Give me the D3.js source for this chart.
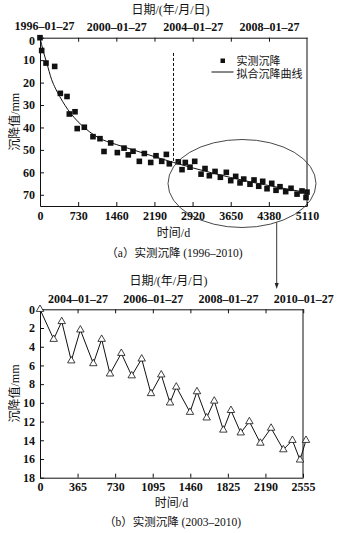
<!DOCTYPE html>
<html>
<head>
<meta charset="utf-8">
<script src="https://cdn.jsdelivr.net/npm/d3@7"></script>
<style>
  body { margin: 0; background: #fff; }
  svg { display: block; }
  .num text, text.num { font-family: "Liberation Serif", "Times New Roman", serif; font-weight: bold; font-size: 12px; fill: #111; }
  .cjk { font-family: "Liberation Serif", "Noto Sans CJK SC", serif; font-size: 12px; fill: #111; }
  .leg { font-family: "Liberation Serif", "Noto Sans CJK SC", serif; font-size: 11px; fill: #111; }
  .cap { font-family: "Liberation Serif", "Noto Sans CJK SC", serif; font-size: 11.5px; fill: #111; }
</style>
</head>
<body>
<script>
// ---- (a) measured settlement 1996–2010 (days since 1996-01-27, mm) ----
const measuredDays = [0, 32, 115, 281, 389, 517, 561, 670, 712, 848,
  1014, 1148, 1225, 1353, 1480, 1608, 1690, 1780, 1901, 1997,
  2119, 2220, 2329, 2418, 2475, 2647, 2718, 2781, 2871, 2961,
  3082, 3158, 3241, 3350, 3452, 3566, 3650, 3745, 3828, 3899,
  4019, 4096, 4186, 4262, 4345, 4435, 4517, 4593, 4702, 4804,
  4919, 5014, 5091, 5110];
const measuredValues = [0, 5.7, 11.3, 12.8, 24.8, 26.2, 34, 33, 40.5, 39.9,
  44.1, 45, 50.7, 46.9, 51.2, 49.2, 52.2, 50.6, 55.1, 51.6,
  55.6, 52.6, 55.1, 52, 56.2, 55.3, 58.8, 55.6, 57.7, 55.1,
  60.8, 58.3, 61.5, 59.6, 62.2, 60, 63.7, 61.8, 64.7, 63,
  65.3, 63.4, 66.2, 64, 67.3, 64.9, 68, 66.4, 68.6, 67.1,
  69.7, 68.3, 71.2, 68.8];

// fitted settlement curve
const fitDays = [0, 60, 130, 220, 300, 380, 480, 580, 730, 860, 1050, 1200,
  1340, 1460, 1825, 2190, 2555, 2920, 3285, 3650, 4015, 4380, 4745, 5110];
const fitValues = [0, 5.8, 11.3, 18.5, 22.8, 26.3, 30.2, 33.5, 37.5, 40.3, 43.6, 45.5,
  46.7, 47.6, 50.3, 53.0, 55.6, 58.0, 60.2, 62.3, 64.2, 65.9, 67.5, 69.0];

const dayTicksA = [0, 730, 1460, 2190, 2920, 3650, 4380, 5110];
const valueTicksA = [0, 10, 20, 30, 40, 50, 60, 70];
const dateTickDaysA = [0, 730, 1461, 2191, 2922, 3652, 4383];
const dateLabelDaysA = [0, 1461, 2922, 4383];
const dateLabelsA = ["1996–01–27", "2000–01–27", "2004–01–27", "2008–01–27"];
const splitDay = 2555;

// ---- (b) measured settlement 2003–2010 (days since 2003-01-27, mm) ----
const recentDays = [0, 133, 211, 304, 392, 518, 599, 680, 790, 891,
  988, 1078, 1178, 1263, 1324, 1457, 1525, 1619, 1693, 1781,
  1855, 1950, 2034, 2141, 2245, 2364, 2452, 2526, 2584];
const recentValues = [0, 3.2, 1.3, 5.5, 2.2, 5.8, 3.2, 6.9, 4.7, 7.1,
  5.3, 9.0, 7.0, 10.0, 8.3, 11.0, 8.8, 11.6, 9.8, 12.9,
  10.8, 13.2, 12.0, 14.3, 12.7, 15.0, 14.0, 16.1, 14.0];

const dayTicksB = [0, 365, 730, 1095, 1460, 1825, 2190, 2555];
const valueTicksB = [0, 2, 4, 6, 8, 10, 12, 14, 16, 18];
const dateTickDaysB = [365, 730, 1096, 1461, 1826, 2191, 2557];
const dateLabelDaysB = [365, 1096, 1826, 2557];
const dateLabelsB = ["2004–01–27", "2006–01–27", "2008–01–27", "2010–01–27"];

const W = 340, H = 533;
const svg = d3.select("body").append("svg").attr("width", W).attr("height", H);
svg.append("rect").attr("width", W).attr("height", H).attr("fill", "#fff");

function styleAxis(g) {
  g.selectAll("path.domain").attr("stroke", "#111").attr("stroke-width", 1);
  g.selectAll(".tick line").attr("stroke", "#111").attr("stroke-width", 1);
  g.attr("font-family", null).attr("font-size", null).classed("num", true);
}

function panel(opt) {
  const x = d3.scaleLinear().domain(opt.xDomain).range([opt.left, opt.right]);
  const y = d3.scaleLinear().domain(opt.yDomain).range([opt.top, opt.bottom]);
  const g = svg.append("g");

  // bottom axis: days
  g.append("g").attr("transform", `translate(0,${opt.bottom})`)
    .call(d3.axisBottom(x).tickValues(opt.dayTicks).tickFormat(d3.format("d"))
      .tickSizeInner(-4).tickSizeOuter(0).tickPadding(5))
    .call(styleAxis);

  // top axis: calendar dates
  const labelOf = new Map(opt.dateLabelDays.map((d, i) => [d, opt.dateLabels[i]]));
  const topAxis = g.append("g").attr("transform", `translate(0,${opt.top})`)
    .call(d3.axisTop(x).tickValues(opt.dateTickDays).tickFormat(d => labelOf.get(d) || "")
      .tickSizeInner(-4).tickSizeOuter(0).tickPadding(6.5))
    .call(styleAxis);

  // left axis: settlement
  const leftAxis = g.append("g").attr("transform", `translate(${opt.left},0)`)
    .call(d3.axisLeft(y).tickValues(opt.valueTicks).tickFormat(d3.format("d"))
      .tickSizeInner(-4).tickSizeOuter(0).tickPadding(5))
    .call(styleAxis);

  // corner labels: first date a little right and up, "0" a little down, so they stay apart
  if (opt.cornerLabels) {
    topAxis.selectAll(".tick text").filter(d => d === opt.xDomain[0]).attr("dx", 4).attr("dy", "-0.1em");
    leftAxis.selectAll(".tick text").filter(d => d === opt.yDomain[0]).attr("dy", "0.55em");
  }

  // right frame edge
  g.append("line").attr("x1", opt.right).attr("x2", opt.right)
    .attr("y1", opt.top).attr("y2", opt.bottom)
    .attr("stroke", "#111").attr("stroke-width", 1);

  // titles
  const cx = (opt.left + opt.right) / 2;
  g.append("text").attr("class", "cjk").attr("text-anchor", "middle")
    .attr("x", cx - 3).attr("y", opt.top - 24).text("日期/(年/月/日)");
  g.append("text").attr("class", "cjk").attr("text-anchor", "middle")
    .attr("x", cx).attr("y", opt.bottom + opt.xTitleGap).text("时间/d");
  g.append("text").attr("class", "cjk").attr("text-anchor", "middle")
    .attr("transform", `translate(19,${(opt.top + opt.bottom) / 2}) rotate(-90)`)
    .text("沉降值/mm");
  g.append("text").attr("class", "cap").attr("text-anchor", "middle")
    .attr("x", cx + 1).attr("y", opt.bottom + opt.captionGap).text(opt.caption);

  return { x, y, g };
}

// ===== panel (a) =====
const A = panel({
  xDomain: [0, 5110], yDomain: [0, 75],
  left: 40, right: 307, top: 37.7, bottom: 206,
  dayTicks: dayTicksA, valueTicks: valueTicksA,
  dateTickDays: dateTickDaysA, dateLabelDays: dateLabelDaysA, dateLabels: dateLabelsA,
  xTitleGap: 31, captionGap: 51, cornerLabels: true,
  caption: "（a）实测沉降 (1996–2010)"
});

// boundary between the two monitoring periods
A.g.append("line")
  .attr("x1", A.x(splitDay)).attr("x2", A.x(splitDay))
  .attr("y1", A.y(6.8)).attr("y2", A.y(55.6))
  .attr("stroke", "#111").attr("stroke-width", 1).attr("stroke-dasharray", "3,2");

// fitted curve
const fitPts = fitDays.map((d, i) => [d, fitValues[i]]);
A.g.append("path")
  .attr("d", d3.line().x(d => A.x(d[0])).y(d => A.y(d[1])).curve(d3.curveMonotoneX)(fitPts))
  .attr("fill", "none").attr("stroke", "#111").attr("stroke-width", 1);

// measured squares
const sq = 5.6;
A.g.append("g").selectAll("rect")
  .data(measuredDays.map((d, i) => [d, measuredValues[i]]))
  .join("rect")
  .attr("x", d => A.x(d[0]) - sq / 2).attr("y", d => A.y(d[1]) - sq / 2)
  .attr("width", sq).attr("height", sq).attr("fill", "#111");

// legend
const lg = A.g.append("g");
lg.append("rect").attr("x", 220.5).attr("y", 58.5).attr("width", 4.5).attr("height", 4.5).attr("fill", "#111");
lg.append("text").attr("class", "leg").attr("x", 236.5).attr("y", 64.5).text("实测沉降");
lg.append("line").attr("x1", 211.5).attr("x2", 233.5).attr("y1", 72).attr("y2", 72)
  .attr("stroke", "#111").attr("stroke-width", 1);
lg.append("text").attr("class", "leg").attr("x", 236.5).attr("y", 77.5).text("拟合沉降曲线");

// highlighted later period with pointer to panel (b)
const ecx = 242, ecy = 183.5, erx = 74, ery = 44;
A.g.append("ellipse").attr("cx", ecx).attr("cy", ecy).attr("rx", erx).attr("ry", ery)
  .attr("fill", "none").attr("stroke", "#333").attr("stroke-width", 0.9);
const ax = 276.7;
const ay0 = ecy + ery * Math.sqrt(1 - Math.pow((ax - ecx) / erx, 2));
A.g.append("line").attr("x1", ax).attr("x2", ax).attr("y1", ay0).attr("y2", 284)
  .attr("stroke", "#222").attr("stroke-width", 0.9);
A.g.append("path").attr("d", `M${ax - 2},${283} L${ax + 2},${283} L${ax},${289} Z`).attr("fill", "#222");

// ===== panel (b) =====
const B = panel({
  xDomain: [0, 2555], yDomain: [0, 18],
  left: 40, right: 303, top: 309.3, bottom: 477.7,
  dayTicks: dayTicksB, valueTicks: valueTicksB,
  dateTickDays: dateTickDaysB, dateLabelDays: dateLabelDaysB, dateLabels: dateLabelsB,
  xTitleGap: 29.5, captionGap: 48, cornerLabels: false,
  caption: "（b）实测沉降 (2003–2010)"
});

const recentPts = recentDays.map((d, i) => [d, recentValues[i]]);
B.g.append("path")
  .attr("d", d3.line().x(d => B.x(d[0])).y(d => B.y(d[1]))(recentPts))
  .attr("fill", "none").attr("stroke", "#111").attr("stroke-width", 1);
B.g.append("g").selectAll("path")
  .data(recentPts).join("path")
  .attr("transform", d => `translate(${B.x(d[0])},${B.y(d[1])})`)
  .attr("d", d3.symbol(d3.symbolTriangle, 24)())
  .attr("fill", "#fff").attr("stroke", "#111").attr("stroke-width", 0.8);
</script>
</body>
</html>
